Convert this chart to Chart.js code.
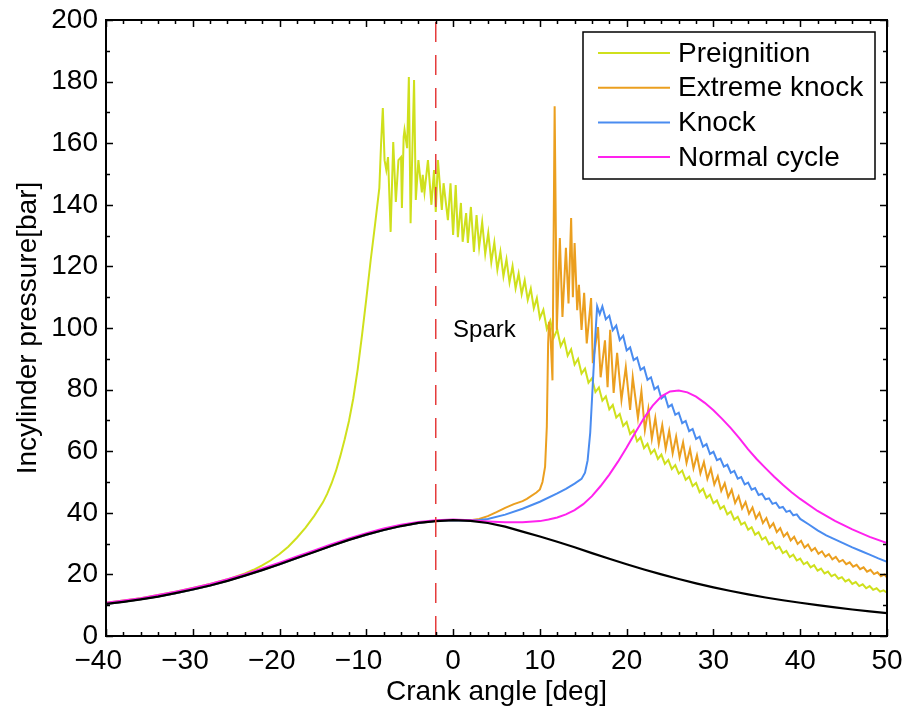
<!DOCTYPE html>
<html>
<head>
<meta charset="utf-8">
<title>Incylinder pressure</title>
<script src="https://cdn.jsdelivr.net/npm/chart.js@4.4.1/dist/chart.umd.min.js"></script>
<style>
  html, body { margin: 0; padding: 0; background: #fff; }
  canvas { display: block; }
</style>
</head>
<body>
<canvas id="pressureChart" width="905" height="709"></canvas>
<script>
// crank angle [deg], pressure [bar] pairs for each cycle
const motored = [
  [-40,10.4],[-38,11.1],[-36,11.9],[-34,12.8],[-32,13.9],[-30,15.1],[-28,16.4],[-26,17.9],
  [-24,19.6],[-22,21.4],[-20,23.3],[-18,25.3],[-16,27.3],[-14,29.3],[-12,31.2],[-10,32.9],
  [-8,34.4],[-6,35.7],[-4,36.7],[-2,37.3],[0,37.6],[2,37.4],[4,36.7],[6,35.5],[8,33.9],
  [10,32.3],[12,30.6],[14,28.8],[16,26.9],[18,25.1],[20,23.3],[22,21.6],[24,20.0],[26,18.5],
  [28,17.1],[30,15.8],[32,14.6],[34,13.5],[36,12.5],[38,11.6],[40,10.8],[42,10.0],[44,9.3],
  [46,8.6],[48,8.0],[50,7.4]
];

const normalCycle = [
  [-40,10.8],[-38,11.5],[-36,12.3],[-34,13.3],[-32,14.4],[-30,15.6],[-28,16.9],[-26,18.4],
  [-24,20.1],[-22,21.9],[-20,23.8],[-18,25.8],[-16,27.8],[-14,29.8],[-12,31.7],[-10,33.4],
  [-8,34.9],[-6,36.1],[-4,37.0],[-2,37.6],[0,37.8],[2,37.6],[4,37.2],[6,36.9],[8,36.9],
  [10,37.3],[11,37.8],[12,38.5],[13,39.5],[14,40.9],[15,42.8],[16,45.4],[17,48.7],[18,52.4],
  [19,56.6],[20,61.2],[21,66.1],[22,70.8],[23,74.8],[24,77.8],[25,79.4],[26,79.7],[27,79.1],
  [28,77.7],[29,75.7],[30,73.3],[31,70.5],[32,67.5],[33,64.2],[34,60.6],[35,57.4],[36,54.5],
  [37,51.7],[38,49.1],[39,46.7],[40,44.5],[42,40.6],[44,37.4],[46,34.6],[48,32.2],[50,30.2]
];

const knockCycle = [
  [2,37.5],[3,37.7],[4,38.0],[6,39.4],[8,41.3],[10,43.6],[12,46.3],[13,47.8],[14,49.5],
  [14.8,51.0],[15.2,53.0],[15.5,57.0],[15.8,66.0],[16.1,82.0],[16.4,98.0],[16.6,107.0],[16.9,104.5],
  [17.2,107.0],[17.6,102.8],[18.0,104.0],[18.4,99.3],[18.8,100.8],[19.2,96.1],[19.6,97.5],
  [20.0,92.7],[20.4,93.7],[20.8,89.6],[21.2,90.4],[21.6,86.4],[22.0,87.2],[22.4,83.2],
  [22.8,84.0],[23.2,80.1],[23.6,81.0],[24.0,77.1],[24.4,78.1],[24.8,74.3],[25.2,75.1],
  [25.6,71.8],[26.0,72.5],[26.4,69.1],[26.8,69.8],[27.2,66.5],[27.6,67.2],[28.0,64.0],
  [28.4,64.7],[28.8,61.5],[29.2,62.3],[29.6,59.1],[30.0,59.8],[30.4,57.1],[30.8,57.6],
  [31.2,55.0],[31.6,55.6],[32.0,53.0],[32.4,53.6],[32.8,51.1],[33.2,51.6],[33.6,49.2],
  [34.0,49.8],[34.4,47.5],[34.8,48.0],[35.2,45.8],[35.6,46.2],[36.0,44.4],[36.4,44.7],
  [36.8,42.9],[37.2,43.3],[37.6,41.6],[38.0,41.9],[38.4,40.3],[38.8,40.7],[39.2,39.2],
  [39.6,39.5],[40.0,38.0],[41,36.2],[42,34.3],[43,32.7],[44,31.4],[45,30.1],[46,28.8],
  [47,27.6],[48,26.4],[49,25.2],[50,24.1]
];

const extremeKnockCycle = [
  [2,37.6],[3,38.0],[4,38.9],[5,40.2],[6,41.6],[7,42.8],[8,43.8],[8.5,44.5],[9.6,46.6],
  [10.0,47.6],[10.3,50.0],[10.6,55.0],[10.8,68.0],[10.95,95.0],[11.05,102.0],[11.2,99.0],
  [11.45,83.0],[11.7,172.0],[11.95,99.4],[12.3,129.2],[12.6,103.6],[13.0,126.0],[13.3,108.0],
  [13.6,135.7],[13.8,110.0],[14.0,127.6],[14.3,105.8],[14.5,114.0],[14.8,99.4],[15.1,111.4],
  [15.4,95.0],[15.9,109.7],[16.1,88.6],[16.7,100.3],[17.0,84.0],[17.5,96.0],[17.8,80.8],
  [18.1,99.4],[18.5,78.9],[18.9,91.9],[19.4,76.6],[19.9,87.3],[20.4,73.4],[20.7,84.0],
  [21.3,70.8],[21.7,79.5],[22.1,66.9],[22.5,73.8],[22.9,64.0],[23.3,70.8],[23.7,62.4],
  [24.1,68.5],[24.5,60.8],[24.9,66.6],[25.3,59.3],[25.7,64.8],[26.1,58.0],[26.5,62.9],
  [26.9,56.2],[27.3,60.7],[27.7,54.4],[28.1,58.7],[28.5,52.8],[28.9,56.5],[29.3,51.0],
  [29.7,54.3],[30.1,49.2],[30.5,51.9],[30.9,47.1],[31.3,49.6],[31.7,45.1],[32.1,47.5],
  [32.5,43.2],[32.9,45.4],[33.3,41.4],[33.7,43.5],[34.1,39.7],[34.5,41.7],[34.9,38.2],
  [35.3,40.0],[35.7,36.7],[36.1,38.3],[36.5,35.2],[36.9,36.6],[37.3,33.7],[37.7,35.0],
  [38.1,32.3],[38.5,33.5],[38.9,31.0],[39.3,32.2],[39.7,29.9],[40.1,30.9],[40.5,28.7],
  [40.9,29.7],[41.3,27.7],[41.7,28.6],[42.1,26.7],[42.5,27.5],[42.9,25.8],[43.3,26.6],
  [43.7,24.9],[44.1,25.7],[44.5,24.1],[44.9,24.7],[45.3,23.3],[45.7,23.9],[46.1,22.5],
  [46.5,23.1],[46.9,21.7],[47.3,22.3],[47.7,20.9],[48.1,21.5],[48.5,20.1],[48.9,20.7],
  [49.3,19.4],[49.7,20.0],[50.0,19.0]
];

const preignitionCycle = [
  [-24,20.3],[-23,21.5],[-22,22.9],[-21,24.6],[-20,26.6],[-19,29.0],[-18,31.9],[-17,35.2],
  [-16,39.0],[-15,43.4],[-14.5,46.2],[-14,49.6],[-13.5,53.6],[-13,58.4],[-12.5,63.8],
  [-12,69.8],[-11.5,77.2],[-11,86.5],[-10.5,97.6],[-10,109.5],[-9.5,122.0],[-9,133.5],
  [-8.5,145.5],[-8.3,160.0],[-8.1,171.4],[-7.9,154.5],[-7.7,151.3],[-7.5,155.5],[-7.2,131.2],
  [-6.9,160.4],[-6.6,140.9],[-6.3,154.5],[-6.0,155.5],[-5.9,139.0],[-5.7,162.0],[-5.6,164.3],
  [-5.3,158.4],[-5.1,181.5],[-4.9,134.0],[-4.5,180.5],[-4.3,141.6],[-4.0,154.5],[-3.8,149.0],
  [-3.6,144.0],[-3.5,149.7],[-3.3,144.0],[-2.9,154.5],[-2.5,140.0],[-2.2,151.3],[-2.0,137.7],
  [-1.75,154.5],[-1.3,138.3],[-1.1,147.0],[-0.6,135.0],[-0.3,147.0],[0,130.2],[0.3,146.4],
  [0.55,129.5],[0.9,140.6],[1.1,128.0],[1.5,137.3],[1.7,127.6],[2.05,139.3],[2.4,124.7],
  [2.7,136.7],[3.0,126.3],[3.35,134.4],[3.7,124.0],[4.05,130.9],[4.4,121.4],[4.75,127.8],
  [5.1,118.9],[5.45,124.8],[5.8,116.8],[6.15,122.3],[6.5,114.8],[6.85,120.1],[7.2,112.9],
  [7.55,117.7],[7.9,111.0],[8.25,115.5],[8.6,109.1],[8.95,112.8],[9.3,106.4],[9.65,109.7],
  [10.0,103.2],[10.4,105.9],[10.8,99.7],[11.2,102.4],[11.6,96.9],[12.0,99.5],[12.4,94.1],
  [12.8,96.3],[13.2,91.0],[13.6,93.1],[14.0,88.1],[14.4,90.0],[14.8,85.2],[15.2,86.8],
  [15.6,82.2],[16.0,83.7],[16.4,79.2],[16.8,80.7],[17.2,76.4],[17.6,77.8],[18.0,73.6],
  [18.4,75.0],[18.8,70.9],[19.2,72.1],[19.6,68.2],[20.0,69.5],[20.4,65.6],[20.8,66.8],
  [21.2,63.2],[21.6,64.5],[22.0,61.0],[22.4,62.4],[22.8,59.2],[23.2,60.5],[23.6,57.5],
  [24.0,58.9],[24.4,55.9],[24.8,57.2],[25.2,54.2],[25.6,55.5],[26.0,52.7],[26.4,53.7],
  [26.8,50.7],[27.2,51.7],[27.6,48.7],[28.0,49.7],[28.4,46.7],[28.8,47.8],[29.2,44.9],
  [29.6,45.9],[30.0,43.1],[30.4,44.0],[30.8,41.3],[31.2,42.2],[31.6,39.5],[32.0,40.4],
  [32.4,37.8],[32.8,38.7],[33.2,36.2],[33.6,36.9],[34.0,34.5],[34.4,35.3],[34.8,32.9],
  [35.2,33.7],[35.6,31.3],[36.0,32.1],[36.4,29.8],[36.8,30.5],[37.2,28.3],[37.6,29.0],
  [38.0,26.9],[38.4,27.6],[38.8,25.6],[39.2,26.4],[39.6,24.5],[40.0,25.1],[40.4,23.3],
  [40.8,24.0],[41.2,22.3],[41.6,23.0],[42.0,21.2],[42.4,21.9],[42.8,20.3],[43.2,20.9],
  [43.6,19.4],[44.0,20.0],[44.4,18.6],[44.8,19.1],[45.2,17.7],[45.6,18.3],[46.0,16.9],
  [46.4,17.5],[46.8,16.2],[47.2,16.8],[47.6,15.5],[48.0,16.2],[48.4,15.0],[48.8,15.5],
  [49.2,14.4],[49.6,14.8],[50.0,14.1]
];

const sparkAngle = -2;
const sparkLabel = 'Spark';
const sparkLabelPos = [0, 97];

const xTicks = [-40, 50, 10];   // min, max, step
const yTicks = [0, 200, 20];

const toXY = pairs => pairs.map(([x, y]) => ({ x, y }));

// knock cycles share the motored trace until they split off after TDC
const motoredLead = motored.filter(([a]) => a <= 0);
const earlyTrace = normalCycle.filter(([a]) => a <= -26);

const FONT = '"Liberation Sans", Arial, Helvetica, sans-serif';
Chart.defaults.font.family = FONT;
Chart.defaults.color = '#000';

const series = [
  { label: 'Preignition', data: earlyTrace.concat(preignitionCycle), color: '#cfe01c', order: 5 },
  { label: 'Extreme knock', data: motoredLead.concat(extremeKnockCycle), color: '#eb9f1f', order: 4 },
  { label: 'Knock', data: motoredLead.concat(knockCycle), color: '#4a8cf0', order: 3 },
  { label: 'Normal cycle', data: normalCycle, color: '#ff22ee', order: 2 },
  { label: '', data: motored, color: '#000000', order: 1, width: 2.2 }
];

const datasets = series.map(s => ({
  label: s.label,
  data: toXY(s.data),
  borderColor: s.color,
  backgroundColor: s.color,
  borderWidth: s.width || 2,
  pointRadius: 0,
  tension: 0,
  order: s.order
}));

datasets.push({
  label: '',
  data: toXY([[sparkAngle, yTicks[0]], [sparkAngle, yTicks[1]]]),
  borderColor: '#e53c3c',
  borderWidth: 1.5,
  borderDash: [20, 13],
  pointRadius: 0,
  order: 0
});

// box frame with inward ticks on all four sides, legend and spark note
const matlabAxes = {
  id: 'matlabAxes',
  afterDraw(chart) {
    const { ctx, chartArea: a, scales: { x, y } } = chart;
    ctx.save();
    ctx.strokeStyle = '#000';
    ctx.lineWidth = 1.5;
    ctx.beginPath();
    for (let v = xTicks[0]; v <= xTicks[1]; v += 2) {
      const px = Math.round(x.getPixelForValue(v)) + 0.5;
      const len = v % 10 === 0 ? 7 : 4;
      ctx.moveTo(px, a.bottom); ctx.lineTo(px, a.bottom - len);
      ctx.moveTo(px, a.top); ctx.lineTo(px, a.top + len);
    }
    for (let v = yTicks[0]; v <= yTicks[1]; v += 10) {
      const py = Math.round(y.getPixelForValue(v)) + 0.5;
      const len = v % 20 === 0 ? 7 : 4;
      ctx.moveTo(a.left, py); ctx.lineTo(a.left + len, py);
      ctx.moveTo(a.right, py); ctx.lineTo(a.right - len, py);
    }
    ctx.stroke();
    ctx.lineWidth = 2;
    ctx.strokeRect(a.left, a.top, a.right - a.left, a.bottom - a.top);

    // spark annotation
    ctx.fillStyle = '#000';
    ctx.font = '24px ' + FONT;
    ctx.textAlign = 'left';
    ctx.textBaseline = 'alphabetic';
    ctx.fillText(sparkLabel, x.getPixelForValue(sparkLabelPos[0]), y.getPixelForValue(sparkLabelPos[1]));

    // legend box in the top right corner
    const items = chart.data.datasets.filter(d => d.label);
    const box = { left: 583, top: 32, width: 292, height: 147 };
    ctx.fillStyle = '#fff';
    ctx.fillRect(box.left, box.top, box.width, box.height);
    ctx.lineWidth = 1.5;
    ctx.strokeStyle = '#000';
    ctx.strokeRect(box.left, box.top, box.width, box.height);
    ctx.font = '28px ' + FONT;
    ctx.textBaseline = 'middle';
    items.forEach((d, i) => {
      const rowY = box.top + 21 + i * 34.7;
      ctx.strokeStyle = d.borderColor;
      ctx.lineWidth = 2;
      ctx.beginPath();
      ctx.moveTo(box.left + 15, rowY);
      ctx.lineTo(box.left + 87, rowY);
      ctx.stroke();
      ctx.fillStyle = '#000';
      ctx.fillText(d.label, box.left + 95, rowY + 1);
    });
    ctx.restore();
  }
};

// fixed axis sizes; end labels may overhang the plot box
function fitX(scale) {
  scale.height = 73;
  scale.paddingLeft = 0;
  scale.paddingRight = 0;
}
function fitY(scale) {
  scale.width = 106;
  scale.paddingTop = 0;
  scale.paddingBottom = 0;
}

new Chart(document.getElementById('pressureChart'), {
  type: 'line',
  data: { datasets },
  options: {
    responsive: false,
    animation: false,
    devicePixelRatio: 1,
    layout: { padding: { top: 20, right: 18, left: 0, bottom: 0 } },
    plugins: {
      legend: { display: false },
      tooltip: { enabled: false }
    },
    scales: {
      x: {
        type: 'linear',
        min: xTicks[0],
        max: xTicks[1],
        afterFit: fitX,
        grid: { display: false, drawTicks: false },
        border: { display: false },
        ticks: {
          stepSize: xTicks[2],
          padding: 8,
          font: { size: 28 },
          color: '#000',
          maxRotation: 0,
          callback: v => v < 0 ? '\u2212' + Math.abs(v) + '\u2007' : String(v)
        },
        title: {
          display: true,
          text: 'Crank angle [deg]',
          font: { size: 28 },
          color: '#000',
          padding: 0
        }
      },
      y: {
        min: yTicks[0],
        max: yTicks[1],
        afterFit: fitY,
        grid: { display: false, drawTicks: false },
        border: { display: false },
        ticks: {
          stepSize: yTicks[2],
          padding: 8,
          font: { size: 28 },
          color: '#000'
        },
        title: {
          display: true,
          text: 'Incylinder pressure[bar]',
          font: { size: 28 },
          color: '#000',
          padding: { top: 11, bottom: 0 }
        }
      }
    }
  },
  plugins: [matlabAxes]
});
</script>
</body>
</html>
